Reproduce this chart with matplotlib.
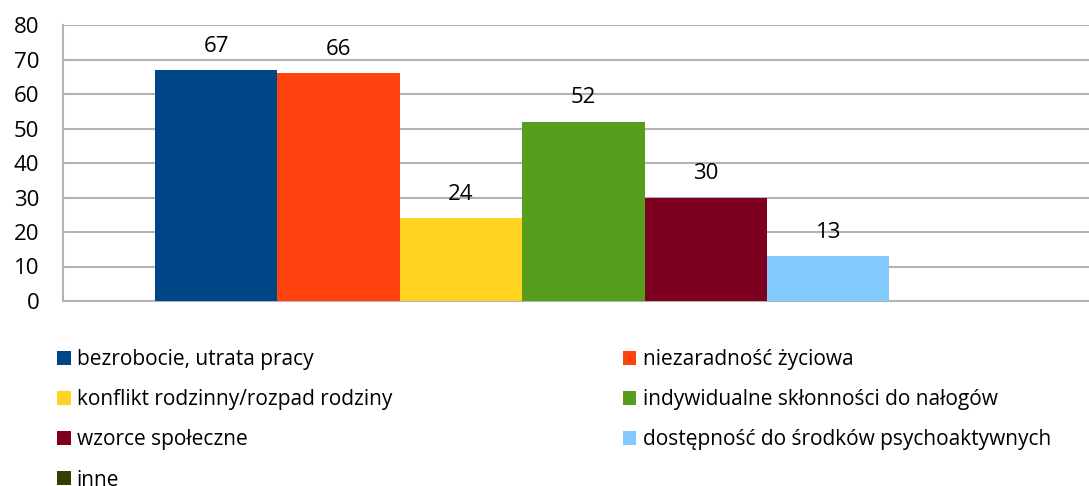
import matplotlib

matplotlib.use("Agg")
import matplotlib.pyplot as plt
from matplotlib.patches import Patch

# ---------------------------------------------------------------------------
# Data
# ---------------------------------------------------------------------------

series = [
    "bezrobocie, utrata pracy",
    "niezaradność życiowa",
    "konflikt rodzinny/rozpad rodziny",
    "indywidualne skłonności do nałogów",
    "wzorce społeczne",
    "dostępność do środków psychoaktywnych",
    "inne",
]
values = [67, 66, 24, 52, 30, 13, None]
colors = ["#004586", "#FF420E", "#FFD320", "#579D1C", "#7E0021", "#83CAFF", "#314004"]
yticks = [0, 10, 20, 30, 40, 50, 60, 70, 80]

plt.rcParams["font.family"] = ["Open Sans", "DejaVu Sans"]
GRID = "#b3b3b3"

fig = plt.figure(figsize=(10.89, 4.86), dpi=100)
ax = fig.add_axes([63 / 1089, 1 - 301 / 486, 1 - 63 / 1089, (301 - 25) / 486])

for i, (name, v, c) in enumerate(zip(series, values, colors)):
    if v is None:
        continue
    ax.bar(i, v, width=1.0, align="edge", color=c, linewidth=0, zorder=3)
    ax.annotate(
        f"{v}",
        (i + 0.5, v),
        xytext=(0, 17),
        textcoords="offset points",
        ha="center",
        va="center",
        fontsize=16,
        color="#000",
        zorder=4,
    )

ax.set_xlim(-0.75, 7.63)
ax.set_ylim(0, 80)
ax.set_yticks(yticks)
ax.set_xticks([])
ax.tick_params(axis="y", length=0, pad=17, labelsize=16)
ax.yaxis.grid(True, color=GRID, linewidth=1.5, zorder=0)
ax.set_axisbelow(True)
ax.spines[["top", "right"]].set_visible(False)
for sp in ("left", "bottom"):
    ax.spines[sp].set_color(GRID)
    ax.spines[sp].set_linewidth(1.5)

order = [0, 2, 4, 6, 1, 3, 5]
handles = [Patch(facecolor=colors[k], edgecolor="none", label=series[k]) for k in order]
fig.legend(
    handles=handles,
    ncol=2,
    loc="upper left",
    bbox_to_anchor=(57 / 1089, 1 - 349 / 486),
    frameon=False,
    fontsize=15,
    handlelength=0.65,
    handleheight=0.65,
    handletextpad=0.3,
    labelspacing=0.92,
    columnspacing=11.07,
    borderpad=0,
    borderaxespad=0,
)

fig.savefig("out.png", dpi=100)
